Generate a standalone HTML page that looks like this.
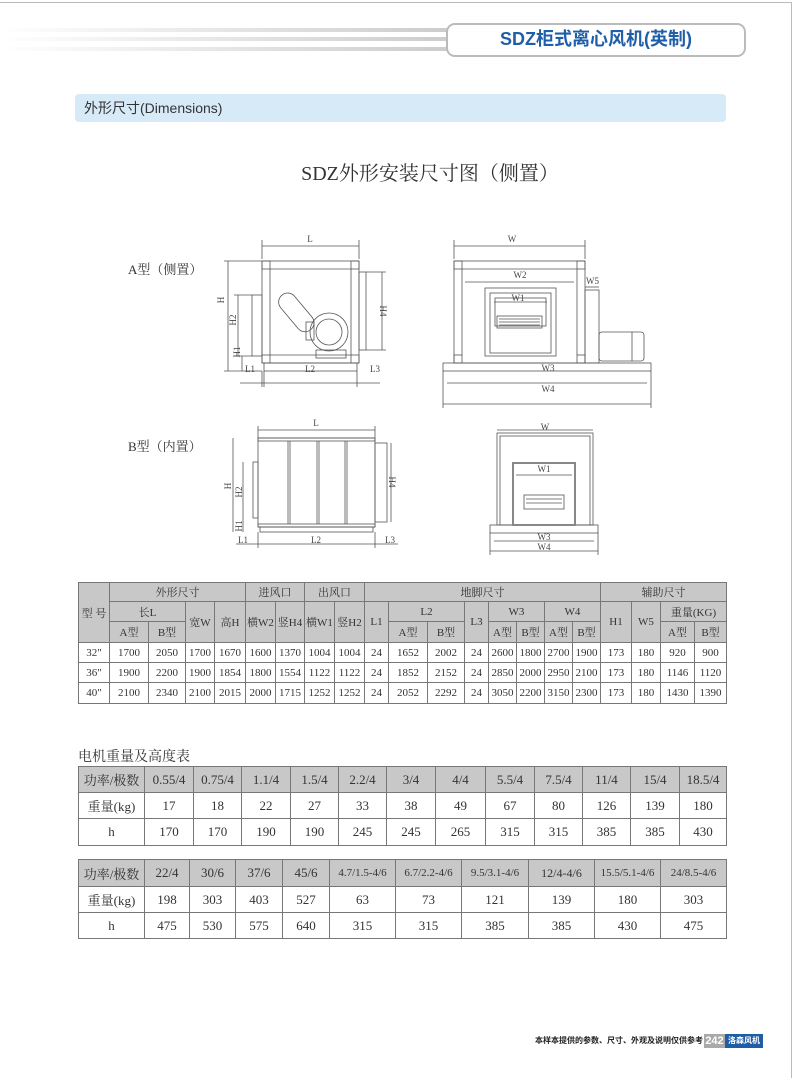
<!DOCTYPE html>
<html><head><meta charset="utf-8"><style>
*{margin:0;padding:0;box-sizing:border-box}
body{width:794px;height:1078px;position:relative;background:#fff;font-family:"Liberation Serif","Noto Serif CJK SC",serif;color:#333;overflow:hidden}
.abs{position:absolute}
table{border-collapse:collapse;table-layout:fixed;position:absolute}
td{border:1px solid #777;text-align:center;font-size:11px;padding:0;white-space:nowrap;overflow:hidden;font-family:"Liberation Serif","Noto Serif CJK SC",serif;color:#333}
.g td,td.g{background:#c8c8c8}
.m td{font-size:13px}
</style></head><body>
<div class="abs" style="left:0;top:2px;width:792px;height:1px;background:#bbb"></div>
<div class="abs" style="left:791px;top:2px;width:1px;height:1076px;background:#bbb"></div>
<div class="abs" style="left:0;top:28px;width:450px;height:4px;background:linear-gradient(90deg,#fff,#ccc)"></div>
<div class="abs" style="left:0;top:37px;width:450px;height:4px;background:linear-gradient(90deg,#fff,#ccc)"></div>
<div class="abs" style="left:0;top:47px;width:450px;height:4px;background:linear-gradient(90deg,#fff,#ccc)"></div>
<div class="abs" style="left:446px;top:23px;width:300px;height:34px;border:2px solid #bbb;border-radius:9px;background:#fff;text-align:center;line-height:30px;font:bold 18px 'Liberation Sans','Noto Sans CJK SC',sans-serif;color:#1f5ea8">SDZ柜式离心风机(英制)</div>
<div class="abs" style="left:75px;top:94px;width:651px;height:28px;background:#d7eaf8;border-radius:4px;font:14px 'Liberation Sans','Noto Sans CJK SC',sans-serif;line-height:28px;padding-left:9px;color:#333">外形尺寸(Dimensions)</div>
<div class="abs" style="left:290px;top:157px;width:280px;text-align:center;font-size:20px;color:#333">SDZ外形安装尺寸图（侧置）</div>
<div class="abs" style="left:128px;top:259px;font-size:13px">A型（侧置）</div>
<div class="abs" style="left:128px;top:436px;font-size:13px">B型（内置）</div>

<svg class="abs" style="left:0;top:0" width="794" height="580" fill="none" stroke="#555" stroke-width="0.8" font-family="Liberation Serif" font-size="9" >
<g>
<rect x="262" y="261" width="97" height="102"/>
<rect x="262" y="261" width="8" height="8"/><rect x="351" y="261" width="8" height="8"/>
<rect x="262" y="355" width="8" height="8"/><rect x="351" y="355" width="8" height="8"/>
<line x1="270" y1="269" x2="351" y2="269"/><line x1="270" y1="355" x2="351" y2="355"/>
<line x1="270" y1="269" x2="270" y2="355"/><line x1="351" y1="269" x2="351" y2="355"/>
<rect x="264" y="363" width="93" height="8"/>
<rect x="252" y="295" width="10" height="61"/>
<rect x="359" y="272" width="7" height="78"/>
<rect x="287" y="290" width="18" height="45" rx="9" transform="rotate(-40 296 312)"/>
<circle cx="329" cy="332" r="19"/><circle cx="329" cy="332" r="13"/>
<rect x="306" y="322" width="8" height="18"/>
<rect x="316" y="350" width="30" height="8"/>
<line x1="262" y1="246" x2="359" y2="246"/><line x1="262" y1="240" x2="262" y2="259"/><line x1="359" y1="240" x2="359" y2="259"/>
<line x1="228" y1="261" x2="228" y2="371"/><line x1="224" y1="261" x2="262" y2="261"/><line x1="224" y1="371" x2="262" y2="371"/>
<line x1="238" y1="295" x2="238" y2="356"/><line x1="234" y1="295" x2="252" y2="295"/><line x1="234" y1="356" x2="252" y2="356"/>
<line x1="242" y1="356" x2="242" y2="371"/>
<line x1="382" y1="272" x2="382" y2="350"/><line x1="366" y1="272" x2="386" y2="272"/><line x1="366" y1="350" x2="386" y2="350"/>
<line x1="240" y1="383" x2="380" y2="383"/><line x1="262" y1="371" x2="262" y2="387"/><line x1="357" y1="371" x2="357" y2="387"/><line x1="264" y1="371" x2="264" y2="387"/>
<rect x="454" y="261" width="131" height="102"/>
<rect x="454" y="261" width="8" height="8"/><rect x="577" y="261" width="8" height="8"/>
<rect x="454" y="355" width="8" height="8"/><rect x="577" y="355" width="8" height="8"/>
<line x1="462" y1="269" x2="577" y2="269"/><line x1="462" y1="269" x2="462" y2="355"/><line x1="577" y1="269" x2="577" y2="355"/>
<rect x="443" y="363" width="208" height="8"/>
<rect x="485" y="288" width="71" height="68"/><rect x="490" y="293" width="61" height="60"/>
<rect x="495" y="298" width="51" height="28"/>
<rect x="497" y="316" width="45" height="12"/>
<line x1="499" y1="319" x2="540" y2="319"/><line x1="499" y1="322" x2="540" y2="322"/><line x1="499" y1="325" x2="540" y2="325"/>
<rect x="585" y="290" width="14" height="73"/>
<rect x="599" y="332" width="45" height="29" rx="3"/><line x1="632" y1="332" x2="632" y2="361"/>
<line x1="454" y1="246" x2="585" y2="246"/><line x1="454" y1="240" x2="454" y2="259"/><line x1="585" y1="240" x2="585" y2="259"/>
<line x1="465" y1="282" x2="574" y2="282"/>
<line x1="494" y1="302" x2="547" y2="302"/>
<line x1="585" y1="287" x2="599" y2="287"/>
<line x1="447" y1="383" x2="647" y2="383"/><line x1="443" y1="404" x2="651" y2="404"/><line x1="443" y1="371" x2="443" y2="408"/><line x1="651" y1="371" x2="651" y2="408"/>
<rect x="258" y="438" width="117" height="89"/>
<rect x="258" y="438" width="117" height="3"/><rect x="258" y="524" width="117" height="3"/>
<line x1="288" y1="441" x2="288" y2="524"/><line x1="290" y1="441" x2="290" y2="524"/>
<line x1="317" y1="441" x2="317" y2="524"/><line x1="319" y1="441" x2="319" y2="524"/>
<line x1="345" y1="441" x2="345" y2="524"/><line x1="347" y1="441" x2="347" y2="524"/>
<rect x="260" y="527" width="113" height="5"/>
<rect x="253" y="462" width="5" height="56"/>
<rect x="375" y="443" width="12" height="79"/>
<line x1="258" y1="430" x2="375" y2="430"/><line x1="258" y1="426" x2="258" y2="438"/><line x1="375" y1="426" x2="375" y2="438"/>
<line x1="233" y1="438" x2="233" y2="532"/><line x1="243" y1="462" x2="243" y2="518"/><line x1="243" y1="518" x2="243" y2="532"/>
<line x1="391" y1="443" x2="391" y2="522"/>
<line x1="236" y1="544" x2="398" y2="544"/><line x1="258" y1="532" x2="258" y2="548"/><line x1="375" y1="532" x2="375" y2="548"/>
<rect x="497" y="433" width="96" height="92"/><rect x="500" y="436" width="90" height="89"/>
<rect x="490" y="525" width="108" height="8"/>
<rect x="513" y="463" width="62" height="62" stroke-width="2" stroke="#888"/>
<rect x="524" y="495" width="40" height="14"/>
<line x1="526" y1="499" x2="562" y2="499"/><line x1="526" y1="503" x2="562" y2="503"/>
<line x1="497" y1="430" x2="593" y2="430"/>
<line x1="516" y1="475" x2="572" y2="475"/>
<line x1="494" y1="541" x2="594" y2="541"/><line x1="490" y1="551" x2="598" y2="551"/>
<line x1="490" y1="533" x2="490" y2="555"/><line x1="598" y1="533" x2="598" y2="555"/>
</g>
<g fill="#444" stroke="none">
<text x="310" y="242" text-anchor="middle">L</text>
<text x="224" y="300" transform="rotate(-90 224 300)" text-anchor="middle">H</text>
<text x="236" y="320" transform="rotate(-90 236 320)" text-anchor="middle">H2</text>
<text x="240" y="352" transform="rotate(-90 240 352)" text-anchor="middle">H1</text>
<text x="380" y="311" transform="rotate(90 380 311)" text-anchor="middle">H4</text>
<text x="245" y="372">L1</text><text x="305" y="372">L2</text><text x="370" y="372">L3</text>
<text x="512" y="242" text-anchor="middle">W</text>
<text x="520" y="278" text-anchor="middle">W2</text>
<text x="518" y="301" text-anchor="middle">W1</text>
<text x="586" y="284">W5</text>
<text x="548" y="371" text-anchor="middle">W3</text>
<text x="548" y="392" text-anchor="middle">W4</text>
<text x="316" y="426" text-anchor="middle">L</text>
<text x="231" y="486" transform="rotate(-90 231 486)" text-anchor="middle">H</text>
<text x="242" y="492" transform="rotate(-90 242 492)" text-anchor="middle">H2</text>
<text x="242" y="526" transform="rotate(-90 242 526)" text-anchor="middle">H1</text>
<text x="389" y="482" transform="rotate(90 389 482)" text-anchor="middle">H4</text>
<text x="238" y="543">L1</text><text x="311" y="543">L2</text><text x="385" y="543">L3</text>
<text x="545" y="430" text-anchor="middle">W</text>
<text x="544" y="472" text-anchor="middle">W1</text>
<text x="544" y="540" text-anchor="middle">W3</text>
<text x="544" y="550" text-anchor="middle">W4</text>
</g>
</svg>

<table style="left:78px;top:582px;width:648px">
<colgroup><col style="width:31px"><col style="width:39px"><col style="width:37px"><col style="width:29px"><col style="width:31px"><col style="width:30px"><col style="width:29px"><col style="width:30px"><col style="width:30px"><col style="width:24px"><col style="width:39px"><col style="width:37px"><col style="width:24px"><col style="width:28px"><col style="width:28px"><col style="width:28px"><col style="width:28px"><col style="width:31px"><col style="width:29px"><col style="width:34px"><col style="width:32px"></colgroup>
<tr class="g" style="height:19px"><td rowspan="3">型 号</td><td colspan="4">外形尺寸</td><td colspan="2">进风口</td><td colspan="2">出风口</td><td colspan="8">地脚尺寸</td><td colspan="4">辅助尺寸</td></tr>
<tr class="g" style="height:20px"><td colspan="2">长L</td><td rowspan="2">宽W</td><td rowspan="2">高H</td><td rowspan="2">横W2</td><td rowspan="2">竖H4</td><td rowspan="2">横W1</td><td rowspan="2">竖H2</td><td rowspan="2">L1</td><td colspan="2">L2</td><td rowspan="2">L3</td><td colspan="2">W3</td><td colspan="2">W4</td><td rowspan="2">H1</td><td rowspan="2">W5</td><td colspan="2">重量(KG)</td></tr>
<tr class="g" style="height:21px"><td>A型</td><td>B型</td><td>A型</td><td>B型</td><td>A型</td><td>B型</td><td>A型</td><td>B型</td><td>A型</td><td>B型</td></tr>
<tr style="height:20px"><td>32"</td><td>1700</td><td>2050</td><td>1700</td><td>1670</td><td>1600</td><td>1370</td><td>1004</td><td>1004</td><td>24</td><td>1652</td><td>2002</td><td>24</td><td>2600</td><td>1800</td><td>2700</td><td>1900</td><td>173</td><td>180</td><td>920</td><td>900</td></tr>
<tr style="height:20px"><td>36"</td><td>1900</td><td>2200</td><td>1900</td><td>1854</td><td>1800</td><td>1554</td><td>1122</td><td>1122</td><td>24</td><td>1852</td><td>2152</td><td>24</td><td>2850</td><td>2000</td><td>2950</td><td>2100</td><td>173</td><td>180</td><td>1146</td><td>1120</td></tr>
<tr style="height:21px"><td>40"</td><td>2100</td><td>2340</td><td>2100</td><td>2015</td><td>2000</td><td>1715</td><td>1252</td><td>1252</td><td>24</td><td>2052</td><td>2292</td><td>24</td><td>3050</td><td>2200</td><td>3150</td><td>2300</td><td>173</td><td>180</td><td>1430</td><td>1390</td></tr>
</table>

<div class="abs" style="left:78px;top:746px;font-size:14px">电机重量及高度表</div>
<table class="m" style="left:78px;top:766px;width:648px">
<colgroup><col style="width:66px"><col style="width:49px"><col style="width:48px"><col style="width:49px"><col style="width:48px"><col style="width:48px"><col style="width:49px"><col style="width:50px"><col style="width:49px"><col style="width:48px"><col style="width:48px"><col style="width:49px"><col style="width:47px"></colgroup>
<tr class="g" style="height:26px"><td>功率/极数</td><td>0.55/4</td><td>0.75/4</td><td>1.1/4</td><td>1.5/4</td><td>2.2/4</td><td>3/4</td><td>4/4</td><td>5.5/4</td><td>7.5/4</td><td>11/4</td><td>15/4</td><td>18.5/4</td></tr>
<tr style="height:26px"><td>重量(kg)</td><td>17</td><td>18</td><td>22</td><td>27</td><td>33</td><td>38</td><td>49</td><td>67</td><td>80</td><td>126</td><td>139</td><td>180</td></tr>
<tr style="height:27px"><td>h</td><td>170</td><td>170</td><td>190</td><td>190</td><td>245</td><td>245</td><td>265</td><td>315</td><td>315</td><td>385</td><td>385</td><td>430</td></tr>
</table>
<table class="m" style="left:78px;top:859px;width:648px">
<colgroup><col style="width:66px"><col style="width:45px"><col style="width:46px"><col style="width:47px"><col style="width:47px"><col style="width:66px"><col style="width:66px"><col style="width:67px"><col style="width:66px"><col style="width:66px"><col style="width:66px"></colgroup>
<tr class="g" style="height:27px"><td>功率/极数</td><td>22/4</td><td>30/6</td><td>37/6</td><td>45/6</td><td style="font-size:11px">4.7/1.5-4/6</td><td style="font-size:11px">6.7/2.2-4/6</td><td style="font-size:11px">9.5/3.1-4/6</td><td style="font-size:12px">12/4-4/6</td><td style="font-size:11px">15.5/5.1-4/6</td><td style="font-size:11px">24/8.5-4/6</td></tr>
<tr style="height:26px"><td>重量(kg)</td><td>198</td><td>303</td><td>403</td><td>527</td><td>63</td><td>73</td><td>121</td><td>139</td><td>180</td><td>303</td></tr>
<tr style="height:26px"><td>h</td><td>475</td><td>530</td><td>575</td><td>640</td><td>315</td><td>315</td><td>385</td><td>385</td><td>430</td><td>475</td></tr>
</table>

<div class="abs" style="left:520px;top:1034px;width:183px;text-align:right;font:bold 8px 'Liberation Sans','Noto Sans CJK SC',sans-serif;line-height:14px;color:#222">本样本提供的参数、尺寸、外观及说明仅供参考</div>
<div class="abs" style="left:704px;top:1034px;width:21px;height:14px;background:#aaa;color:#fff;font:bold 11px 'Liberation Sans',sans-serif;text-align:center;line-height:14px">242</div>
<div class="abs" style="left:725px;top:1034px;width:38px;height:14px;background:#1d5ea6;color:#fff;font:bold 8px 'Liberation Sans','Noto Sans CJK SC',sans-serif;text-align:center;line-height:14px">洛森风机</div>
</body></html>
